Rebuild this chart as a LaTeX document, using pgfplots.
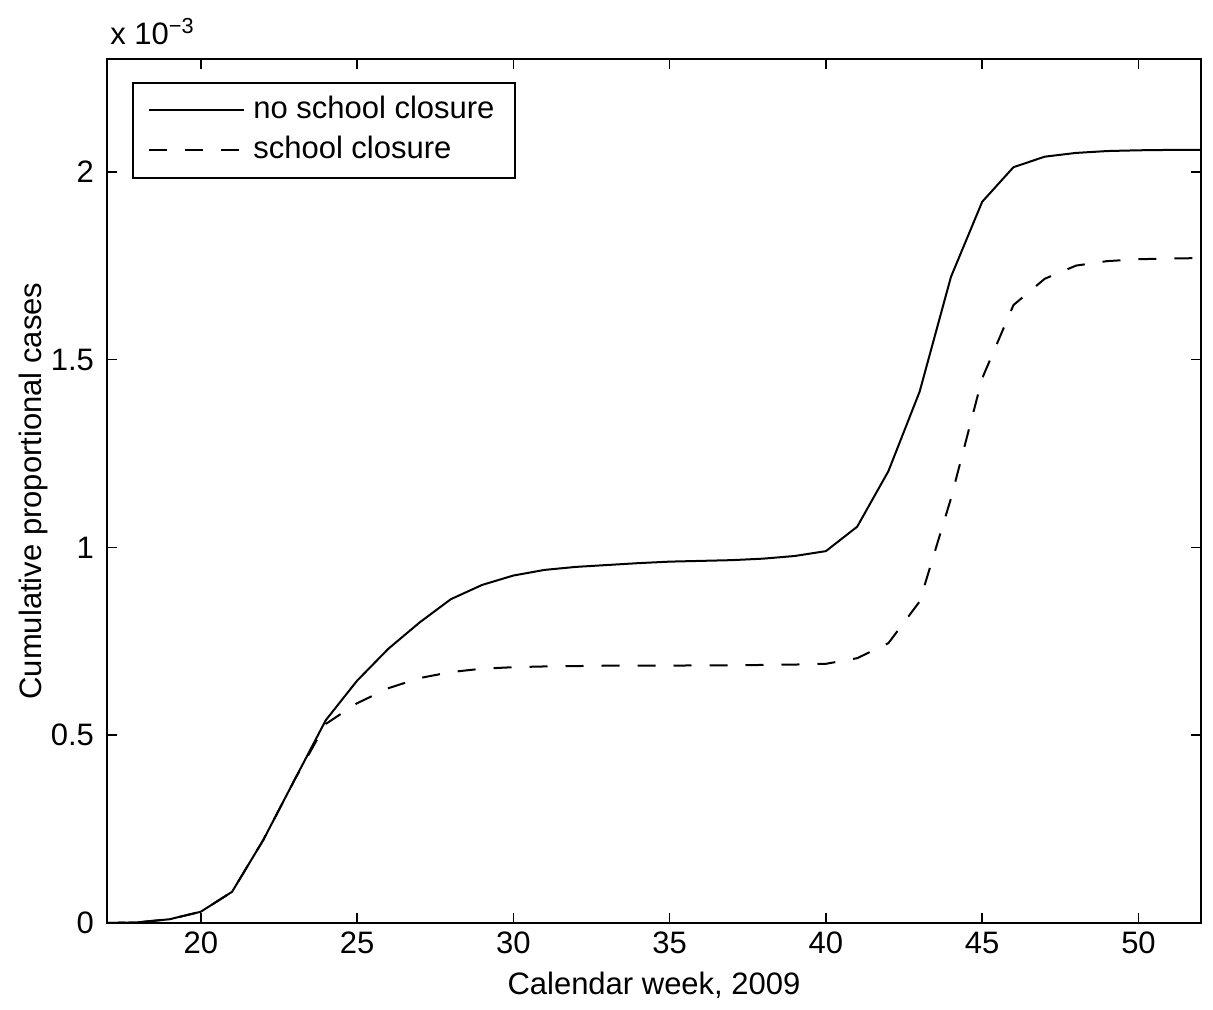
\documentclass[border=0pt]{standalone}
\usepackage{fontspec}
\setmainfont{Liberation Sans}
\usepackage{pgfplots}
\pgfplotsset{compat=1.18}
\usepackage{pgfplotstable}

\pgfplotstableread{
week nosc sc
17 0        0
18 0.002e-3 0.002e-3
19 0.010e-3 0.010e-3
20 0.030e-3 0.030e-3
21 0.083e-3 0.083e-3
22 0.221e-3 0.221e-3
23 0.381e-3 0.381e-3
24 0.540e-3 0.530e-3
25 0.645e-3 0.585e-3
26 0.730e-3 0.625e-3
27 0.800e-3 0.652e-3
28 0.862e-3 0.668e-3
29 0.900e-3 0.677e-3
30 0.925e-3 0.681e-3
31 0.940e-3 0.683e-3
32 0.948e-3 0.684e-3
33 0.953e-3 0.685e-3
34 0.958e-3 0.685e-3
35 0.962e-3 0.685e-3
36 0.964e-3 0.686e-3
37 0.966e-3 0.686e-3
38 0.970e-3 0.687e-3
39 0.977e-3 0.688e-3
40 0.990e-3 0.690e-3
41 1.055e-3 0.705e-3
42 1.203e-3 0.745e-3
43 1.415e-3 0.856e-3
44 1.720e-3 1.130e-3
45 1.920e-3 1.450e-3
46 2.012e-3 1.645e-3
47 2.040e-3 1.715e-3
48 2.050e-3 1.750e-3
49 2.055e-3 1.762e-3
50 2.057e-3 1.767e-3
51 2.058e-3 1.769e-3
52 2.058e-3 1.770e-3
}\datatable

\begin{document}
\begin{tikzpicture}
\begin{axis}[
  scale only axis,
  width=547pt, height=432pt,
  xmin=17, xmax=52,
  ymin=0, ymax=2.3e-3,
  xtick={20,25,30,35,40,45,50},
  ytick={0,0.5e-3,1e-3,1.5e-3,2e-3},
  yticklabels={0,0.5,1,1.5,2},
  scaled y ticks=false,
  tick align=inside,
  xtick pos=both, ytick pos=both,
  major tick length=5pt,
  axis line style={line width=0.9pt},
  every tick/.style={black, line width=0.8pt},
  tick label style={font=\fontsize{15.5}{18}\selectfont},
  /pgf/number format/assume math mode=true,
  xticklabel style={yshift=-1pt},
  yticklabel style={xshift=-3pt},
  label style={font=\fontsize{15.5}{18}\selectfont},
  xlabel={Calendar week, 2009},
  xlabel style={at={(axis description cs:0.5,0)}, anchor=center, yshift=-31pt},
  ylabel={Cumulative proportional cases},
  ylabel style={at={(axis description cs:0,0.5)}, anchor=center, yshift=37pt},
  legend cell align=left,
  legend image code/.code={\draw[#1] (0pt,0pt) -- (47.5pt,0pt);},
  legend style={
    at={(axis description cs:0,1)}, anchor=north west,
    xshift=12.5pt, yshift=-11.5pt,
    draw=black, line width=0.8pt,
    font=\fontsize{15.5}{18}\selectfont,
    inner xsep=7.5pt, inner ysep=3.75pt,
    row sep=0pt, column sep=1.5pt,
    nodes={inner xsep=2.75pt, inner ysep=2.75pt, text height=11.5pt, text depth=3pt},
  },
]
\addplot[black, line width=1pt] table[x=week, y=nosc] {\datatable};
\addlegendentry{no school closure}
\addplot[black, line width=1pt, dash pattern=on 9pt off 9pt] table[x=week, y=sc] {\datatable};
\addlegendentry{school closure}
\end{axis}
\node[anchor=base west, font=\fontsize{15.5}{18}\selectfont, inner sep=0pt, xshift=1.5pt, yshift=7.5pt] at (current axis.north west) {x 10\textsuperscript{−3}};
\pgfresetboundingbox
\path[use as bounding box] (-53.5pt,-43pt) rectangle (553pt,461.5pt);
\end{tikzpicture}
\end{document}
